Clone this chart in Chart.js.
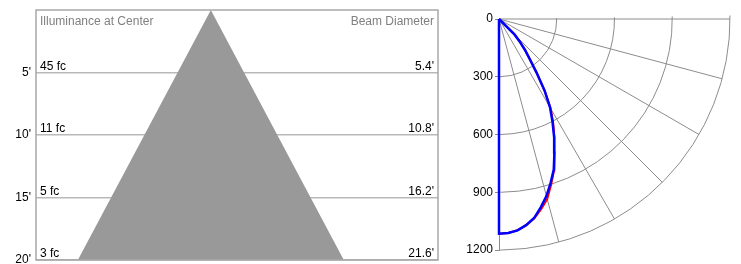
<!DOCTYPE html>
<html>
<head>
<meta charset="utf-8">
<script src="https://cdn.jsdelivr.net/npm/chart.js@4.4.1/dist/chart.umd.min.js"></script>
<style>
  html, body { margin: 0; padding: 0; background: #fff; }
  #wrap { position: relative; width: 741px; height: 264px; overflow: hidden; }
  #coneBox { position: absolute; left: 0; top: 0; width: 450px; height: 264px; }
  #polarBox { position: absolute; left: 445px; top: 0; width: 296px; height: 264px; }
</style>
</head>
<body>
<div id="wrap">
  <div id="coneBox"><canvas id="coneChart"></canvas></div>
  <div id="polarBox"><canvas id="polarChart"></canvas></div>
</div>
<script>
// cone diagram: mounting distance (ft), illuminance at center (fc), beam diameter (ft)
const distances = [5, 10, 15, 20];
const centerFc = [45, 11, 5, 3];
const beamDiameters = [5.4, 10.8, 16.2, 21.6];

// candela curve, angle from nadir in degrees
const angles = [0, 2.5, 5, 7.5, 10, 12.5, 15, 17.5, 20, 22.5, 25, 27.5, 30, 32.5, 35, 37.5, 40, 42.5, 45, 47.5];
const candelaBlue = [1115, 1113, 1102, 1080, 1050, 1002, 952, 892, 832, 752, 678, 602, 530, 440, 340, 262, 210, 160, 115, 0];
const candelaRed = [1115, 1113, 1102, 1080, 1052, 1012, 968, 902, 836, 752, 680, 610, 536, 442, 340, 262, 210, 160, 115, 0];
const candelaTicks = [0, 300, 600, 900, 1200];
const spokeAngles = [15, 30, 45, 60, 75, 90];

Chart.defaults.font.family = '"Liberation Sans", Arial, sans-serif';
Chart.defaults.font.size = 12;
Chart.defaults.animation = false;

const gridGray = '#a8a8a8';

// cone outline built from the beam diameters
const conePts = [];
for (let i = distances.length - 1; i >= 0; i--) conePts.push({x: -beamDiameters[i] / 2, y: distances[i]});
conePts.push({x: 0, y: 0});
for (let i = 0; i < distances.length; i++) conePts.push({x: beamDiameters[i] / 2, y: distances[i]});

// texts and frame of the cone box
const coneLabels = {
    id: 'coneLabels',
    afterDraw(chart) {
        const {ctx, chartArea: a, scales: {y}} = chart;
        ctx.save();
        ctx.font = '12px "Liberation Sans", Arial, sans-serif';
        ctx.fillStyle = '#808080';
        ctx.textAlign = 'left';
        ctx.fillText('Illuminance at Center', a.left + 4, a.top + 15);
        ctx.textAlign = 'right';
        ctx.fillText('Beam Diameter', a.right - 4, a.top + 15);
        ctx.fillStyle = '#000';
        distances.forEach((d, i) => {
            const py = y.getPixelForValue(d) - 3;
            ctx.textAlign = 'left';
            ctx.fillText(centerFc[i] + ' fc', a.left + 4, py);
            ctx.textAlign = 'right';
            ctx.fillText(beamDiameters[i] + "'", a.right - 4, py);
        });
        ctx.strokeStyle = gridGray;
        ctx.lineWidth = 1.5;
        ctx.strokeRect(a.left, a.top, a.right - a.left, a.bottom - a.top);
        ctx.restore();
    }
};

new Chart(document.getElementById('coneChart'), {
    type: 'scatter',
    data: {
        datasets: [{
            data: conePts,
            showLine: true,
            borderWidth: 0,
            pointRadius: 0,
            backgroundColor: '#999999',
            fill: {value: 20}
        }]
    },
    options: {
        responsive: true,
        maintainAspectRatio: false,
        layout: {padding: {top: 10, right: 12, bottom: 4, left: 0}},
        plugins: {legend: {display: false}, tooltip: {enabled: false}},
        scales: {
            x: {type: 'linear', min: -14.2, max: 18.45, display: false},
            y: {
                type: 'linear', reverse: true, min: 0, max: 20, z: 1,
                afterBuildTicks: s => { s.ticks = distances.map(v => ({value: v})); },
                afterFit: s => { s.width = 36; s.paddingTop = 0; s.paddingBottom = 0; },
                ticks: {color: '#000', padding: 5, callback: v => v + "'"},
                grid: {color: 'rgba(100,100,100,0.45)', lineWidth: 1.5, drawTicks: false},
                border: {display: false}
            }
        }
    },
    plugins: [coneLabels]
});

// polar grid: arcs at each candela tick and spokes every 15 degrees
const polarGrid = {
    id: 'polarGrid',
    beforeDatasetsDraw(chart) {
        const {ctx, scales: {x, y}} = chart;
        const cx = x.getPixelForValue(0), cy = y.getPixelForValue(0);
        const rMax = candelaTicks[candelaTicks.length - 1];
        ctx.save();
        ctx.strokeStyle = '#8c8c8c';
        ctx.lineWidth = 1;
        candelaTicks.slice(1).forEach(r => {
            const R = x.getPixelForValue(r) - cx;
            ctx.beginPath();
            ctx.arc(cx, cy, R, -0.015, Math.PI / 2);
            ctx.stroke();
        });
        spokeAngles.forEach(a => {
            const t = a * Math.PI / 180;
            ctx.beginPath();
            ctx.moveTo(cx, cy);
            ctx.lineTo(x.getPixelForValue(rMax * Math.sin(t)), y.getPixelForValue(rMax * Math.cos(t)));
            ctx.stroke();
        });
        ctx.restore();
    }
};

function toXY(vals) {
    const pts = [{x: 0, y: 0}];
    angles.forEach((a, i) => {
        const t = a * Math.PI / 180;
        pts.push({x: vals[i] * Math.sin(t), y: vals[i] * Math.cos(t)});
    });
    return pts;
}

new Chart(document.getElementById('polarChart'), {
    type: 'scatter',
    data: {
        datasets: [
            // first dataset is painted last, so blue sits on top of red
            {data: toXY(candelaBlue), showLine: true, borderColor: '#0000ff', borderWidth: 2.5, pointRadius: 0, clip: false},
            {data: toXY(candelaRed), showLine: true, borderColor: '#ff0000', borderWidth: 2, pointRadius: 0, clip: false}
        ]
    },
    options: {
        responsive: true,
        maintainAspectRatio: false,
        layout: {padding: {top: 19, right: 11, bottom: 14, left: 0}},
        plugins: {legend: {display: false}, tooltip: {enabled: false}},
        scales: {
            x: {type: 'linear', min: 0, max: 1200, display: false},
            y: {
                type: 'linear', reverse: true, min: 0, max: 1200,
                afterBuildTicks: s => { s.ticks = candelaTicks.map(v => ({value: v})); },
                afterFit: s => { s.width = 54; s.paddingTop = 0; s.paddingBottom = 0; },
                ticks: {color: '#000', padding: 2, callback: v => String(v)},
                grid: {drawOnChartArea: false, drawTicks: true, tickLength: 4, color: '#8c8c8c'},
                border: {display: true, color: '#8c8c8c'}
            }
        }
    },
    plugins: [polarGrid]
});
</script>
</body>
</html>
